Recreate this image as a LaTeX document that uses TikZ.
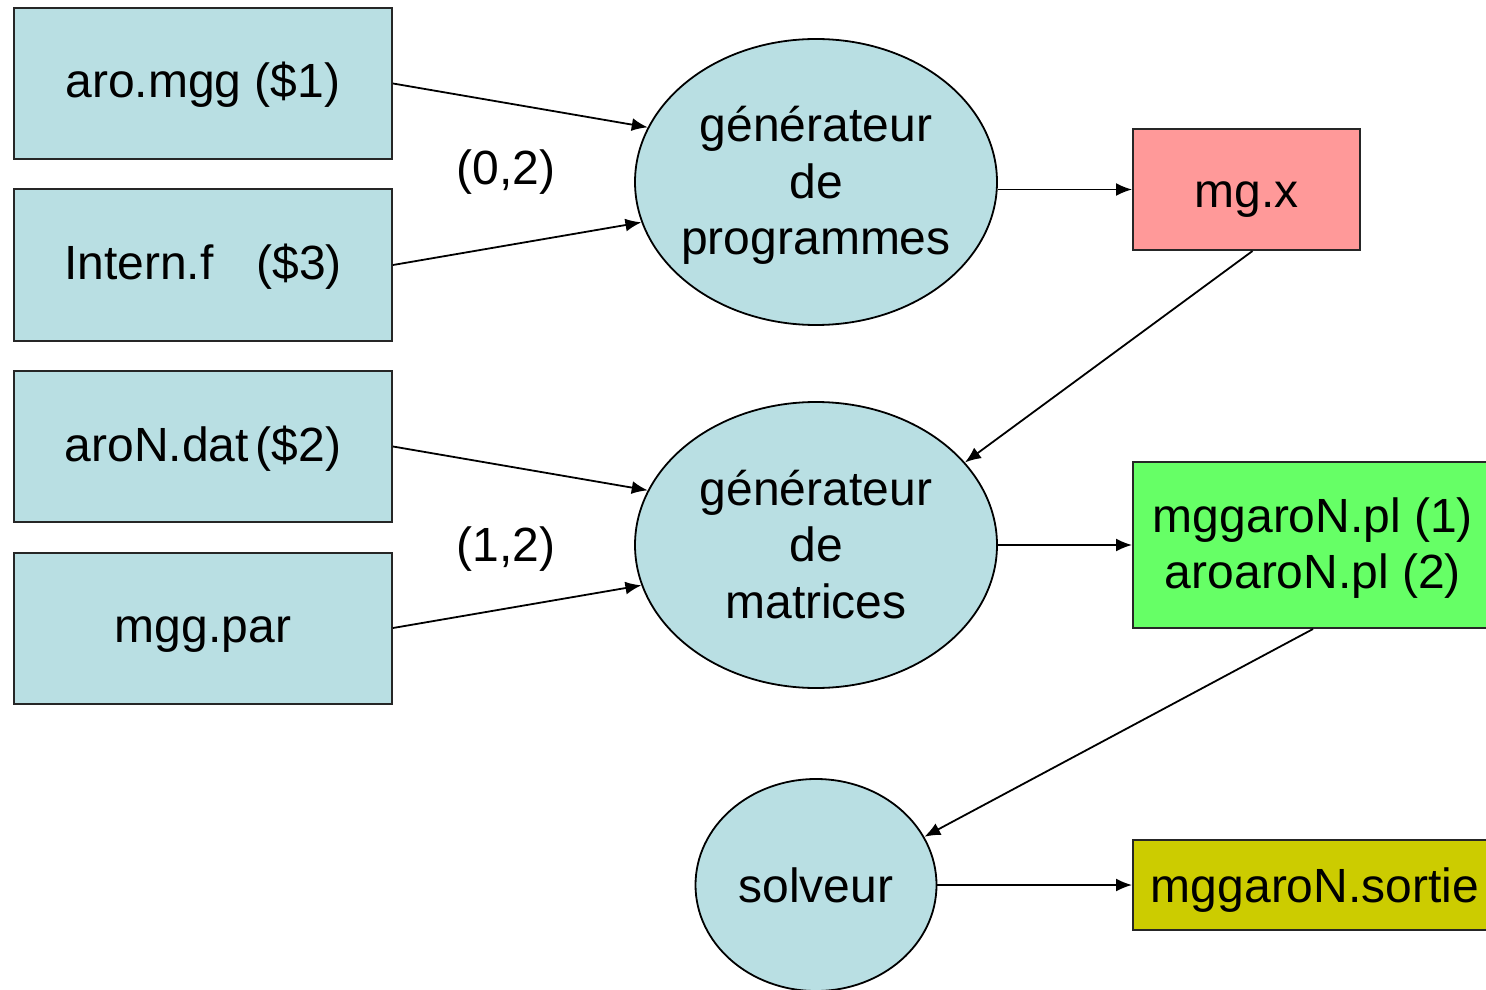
\documentclass[tikz,border=0pt]{standalone}
\usepackage{fontspec}
\setmainfont{Liberation Sans}
\usetikzlibrary{arrows.meta,shapes.geometric}
\definecolor{lblue}{HTML}{B9DFE3}
\definecolor{salmon}{HTML}{FF9999}
\definecolor{lgreen}{HTML}{66FF66}
\definecolor{olive}{HTML}{CCCC00}
\tikzset{
  txt/.style={font=\fontsize{24}{28}\selectfont, inner sep=0pt},
  bl/.style={text depth=0pt, text height=#1},
  filebox/.style={txt, draw=black!85, line width=1pt, fill=lblue, minimum width=189pt, minimum height=75.5pt, bl=14.5pt},
  outbox/.style={txt, draw=black!85, line width=1pt},
  proc/.style={ellipse, draw=black, line width=0.9pt, fill=lblue, inner sep=0pt},
  line/.style={txt, anchor=base},
  arr/.style={-{Latex[length=8pt,width=6.5pt]}, line width=0.9pt}
}
\begin{document}
\begin{tikzpicture}[x=0.5pt,y=-0.5pt]
\useasboundingbox (0,0) rectangle (1486,989);
\clip (0,0) rectangle (1486,989);
\node[filebox] (b1) at (203,83.5) {aro.mgg (\$1)};
\node[filebox] (b2) at (203,265) {Intern.f\hspace{0.9em}(\$3)};
\node[filebox] (b3) at (203,446.5) {aroN.dat\hspace{0.15em}(\$2)};
\node[filebox] (b4) at (203,628) {mgg.par};
\node[proc, minimum width=181pt, minimum height=143pt] (e1) at (816,182) {};
\node[line] (e1a) at (816,142) {générateur};
\node[line] (e1b) at (816,198.5) {de};
\node[line] (e1c) at (816,255) {programmes};
\node[proc, minimum width=181pt, minimum height=143pt] (e2) at (816,545) {};
\node[line] (e2a) at (816,505) {générateur};
\node[line] (e2b) at (816,561.5) {de};
\node[line] (e2c) at (816,618) {matrices};
\node[proc, minimum width=120.5pt, minimum height=106pt, txt, bl=17pt] (e3) at (816,885) {solveur};
\node[outbox, fill=salmon, minimum width=113.5pt, minimum height=60.5pt, bl=18.5pt] (mgx) at (1246.5,189.5) {mg.x};
\node[outbox, fill=lgreen, minimum width=180pt, minimum height=83pt] (pl) at (1313,545) {};
\node[line] (pla) at (1313,532) {mggaroN.pl (1)};
\node[line] (plb) at (1313,588) {aroaroN.pl (2)};
\node[outbox, fill=olive, minimum width=182pt, minimum height=45pt, bl=17pt] (so) at (1315,885) {mggaroN.sortie};
\node[line] (l1) at (506,185) {(0,2)};
\node[line] (l2) at (506,561) {(1,2)};
\draw[arr] (b1.east) -- (e1.162);
\draw[arr] (b2.east) -- (e1.193);
\draw[arr] (b3.east) -- (e2.162);
\draw[arr] (b4.east) -- (e2.193);
\draw[arr] (e1.east |- mgx.west) -- (mgx.west);
\draw[arr] ([xshift=3pt]mgx.south) -- (e2.29);
\draw[arr] (e2.east |- pl.west) -- (pl.west);
\draw[arr] (pl.south) -- (e3.24);
\draw[arr] (e3.east) -- (so.west);
\end{tikzpicture}
\end{document}
